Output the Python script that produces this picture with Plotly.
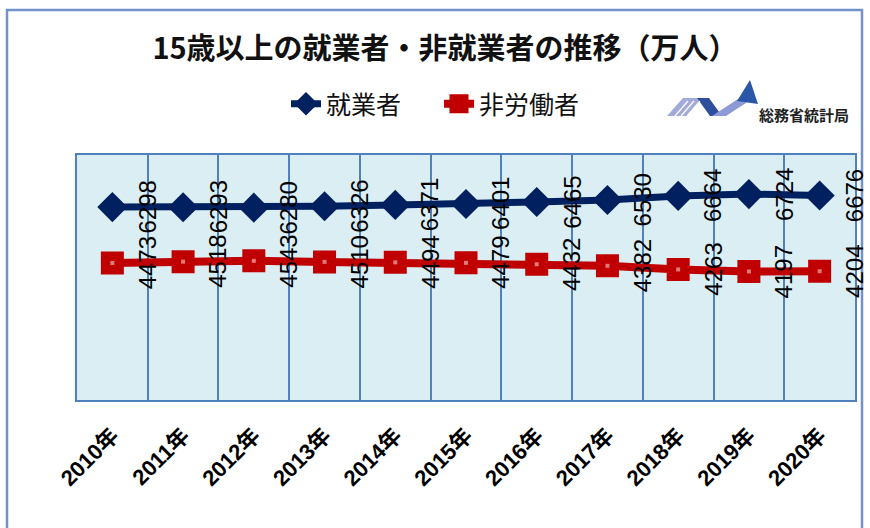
import plotly.graph_objects as go

# 15歳以上の就業者・非労働者の推移（万人）
years = ["2010年", "2011年", "2012年", "2013年", "2014年", "2015年",
         "2016年", "2017年", "2018年", "2019年", "2020年"]
employed = [6298, 6293, 6280, 6326, 6371, 6401, 6465, 6530, 6664, 6724, 6676]
not_in_labor = [4473, 4518, 4543, 4510, 4494, 4479, 4432, 4382, 4263, 4197, 4204]

NAVY = "#002060"
RED = "#C00000"
GRID = "#4F81BD"
PLOT_BG = "#DBEEF4"

W, H = 870, 528
L, R, T, B = 77, 15, 155, 128
PW, PH = W - L - R, H - T - B


def px_x(x):
    return (x - L) / PW


def px_y(y):
    return (H - B - y) / PH


fig = go.Figure()

fig.add_trace(go.Scatter(
    x=years, y=employed, name="就業者", mode="lines+markers",
    line=dict(color=NAVY, width=7),
    marker=dict(symbol="diamond", size=21, color=NAVY, line=dict(color=NAVY, width=2)),
))
fig.add_trace(go.Scatter(
    x=years, y=not_in_labor, name="非労働者", mode="lines+markers",
    line=dict(color=RED, width=8),
    marker=dict(symbol="square", size=20, color=RED, line=dict(color=RED, width=3)),
))
# small highlight in the middle of each square marker
fig.add_trace(go.Scatter(
    x=years, y=not_in_labor, mode="markers", showlegend=False, hoverinfo="skip",
    marker=dict(symbol="square", size=4, color="#E07A7A"),
))

# vertical value labels to the right of each point
label_font = dict(family="Liberation Sans, Arial, sans-serif", size=24, color="#000000")
for series in (employed, not_in_labor):
    for yr, v in zip(years, series):
        fig.add_annotation(
            x=yr, y=v, text=str(v), showarrow=False, textangle=-90,
            xshift=35, font=label_font, xanchor="center", yanchor="middle",
        )

# 総務省統計局 logo
logo_shapes = [
    ("#A3AADB", [(667, 116), (683, 98), (703, 98), (687, 116)]),
    ("#2E4F9E", [(697, 98), (709, 98), (722, 116), (710, 116)]),
    ("#8C9BD6", [(712, 116), (738, 99), (752, 99), (726, 116)]),
    ("#2C57A8", [(750, 80), (737, 101), (758, 104)]),
]
for color, pts in logo_shapes:
    path = "M " + " L ".join(f"{px_x(x):.5f},{px_y(y):.5f}" for x, y in pts) + " Z"
    fig.add_shape(type="path", path=path, xref="paper", yref="paper",
                  fillcolor=color, line=dict(width=0), layer="above")
# white hatching on the left logo block
for x0 in (675, 681, 687):
    fig.add_shape(type="line", xref="paper", yref="paper",
                  x0=px_x(x0), y0=px_y(116), x1=px_x(x0 + 13), y1=px_y(101),
                  line=dict(color="#FFFFFF", width=1.2), layer="above")
fig.add_annotation(
    x=px_x(757), y=px_y(114), xref="paper", yref="paper", text="総務省統計局",
    showarrow=False, xanchor="left", yanchor="middle",
    font=dict(family="Noto Sans CJK JP", size=15, color="#222222", weight="bold"),
)

# outer chart frame
fig.add_shape(type="rect", xref="paper", yref="paper",
              x0=px_x(7), x1=px_x(862), y0=px_y(560), y1=px_y(10),
              line=dict(color="#7193CA", width=2.5), fillcolor="rgba(0,0,0,0)",
              layer="below")

fig.update_layout(
    width=W, height=H,
    margin=dict(l=L, r=R, t=T, b=B),
    paper_bgcolor="#FFFFFF",
    plot_bgcolor=PLOT_BG,
    title=dict(
        text="15歳以上の就業者・非就業者の推移（万人）",
        x=445 / W, xanchor="center",
        y=1 - 49 / H, yanchor="middle", yref="container",
        font=dict(family="Noto Sans CJK JP", size=29, color="#111111", weight="bold"),
    ),
    legend=dict(
        orientation="h", x=px_x(286), y=px_y(104), xanchor="left", yanchor="middle",
        font=dict(family="Noto Sans CJK JP", size=25, color="#111111"),
        bgcolor="rgba(0,0,0,0)", entrywidth=108, traceorder="normal",
    ),
    showlegend=True,
    font=dict(family="Liberation Sans, Noto Sans CJK JP, sans-serif"),
)

fig.update_xaxes(
    type="category", range=[-0.5, 10.5], tickson="boundaries",
    showgrid=True, gridcolor=GRID, gridwidth=1.5,
    showline=True, linecolor=GRID, linewidth=2, mirror=True,
    ticks="", tickangle=-45, ticklabelstandoff=12,
    tickfont=dict(family="Liberation Sans, Noto Sans CJK JP", size=22, color="#000000", weight="bold"),
    fixedrange=True,
)
fig.update_yaxes(
    range=[0, 8000], showgrid=False, zeroline=False, showticklabels=False,
    showline=True, linecolor=GRID, linewidth=2, mirror=True, ticks="",
    fixedrange=True,
)

fig.write_html("out.html", config={"displayModeBar": False})
